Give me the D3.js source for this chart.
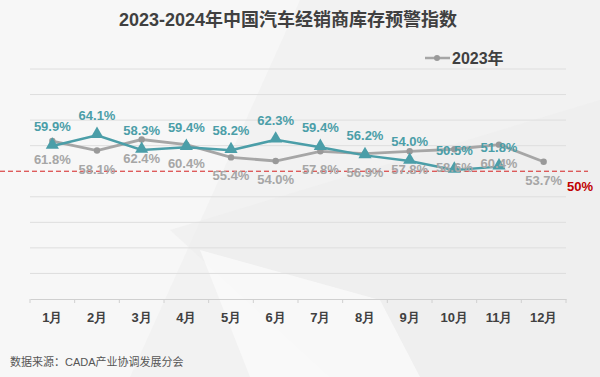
<!DOCTYPE html>
<html lang="zh">
<head>
    <meta charset="UTF-8">
    <script src="https://d3js.org/d3.v7.min.js"></script>
    <style>
        body { margin: 0; font-family: "Liberation Sans", Arial, "Noto Sans CJK SC", sans-serif; }
        .title { font-size: 18px; font-weight: bold; fill: #404040; text-anchor: middle; }
        .lbl { font-size: 13px; font-weight: bold; text-anchor: middle; }
        .month { font-size: 13px; font-weight: bold; fill: #404040; text-anchor: middle; }
    </style>
</head>
<body>
    <svg id="chart"></svg>
    <script>
        const months = ["1月", "2月", "3月", "4月", "5月", "6月", "7月", "8月", "9月", "10月", "11月", "12月"];
        const values2023 = [61.8, 58.1, 62.4, 60.4, 55.4, 54.0, 57.8, 56.9, 57.8, 58.6, 60.4, 53.7];
        const values2024 = [59.9, 64.1, 58.3, 59.4, 58.2, 62.3, 59.4, 56.2, 54.0, 50.5, 51.8];
        const yTicks = [0, 10, 20, 30, 40, 50, 60, 70, 80, 90];
        const warning = 50;

        const width = 600, height = 377;
        const margin = { top: 69, right: 34, bottom: 78, left: 30 };
        const grey = "#a6a6a6", teal = "#4b9ea8";

        const svg = d3.select("#chart").attr("width", width).attr("height", height);

        // background
        svg.append("rect").attr("width", width).attr("height", height).attr("fill", "#f2f2f2");
        svg.append("polygon").attr("points", "0,0 300,0 130,377 0,377").attr("fill", "#f7f7f7");
        svg.append("polygon").attr("points", "170,230 600,100 600,377 330,377").attr("fill", "#ececec").attr("opacity", 0.6);
        svg.append("polygon").attr("points", "200,250 380,300 420,377 250,377").attr("fill", "#fafafa").attr("opacity", 0.8);

        const x = d3.scaleBand().domain(months).range([margin.left, width - margin.right]);
        const y = d3.scaleLinear().domain([0, 90]).range([height - margin.bottom, margin.top]);
        const cx = m => x(m) + x.bandwidth() / 2;

        // gridlines
        svg.append("g").selectAll("line")
            .data(yTicks.filter(t => t !== 0 && t !== warning))
            .join("line")
            .attr("x1", margin.left).attr("x2", width - margin.right)
            .attr("y1", d => y(d)).attr("y2", d => y(d))
            .attr("stroke", "#dedede").attr("stroke-width", 1);

        // x axis
        const xAxis = svg.append("g")
            .attr("transform", `translate(0,${y(0)})`)
            .call(d3.axisBottom(x).tickSize(0).tickPadding(14));
        xAxis.select(".domain").attr("stroke", "#d0d0d0");
        xAxis.selectAll(".tick text").attr("class", "month").attr("font-family", null).attr("font-size", null);
        xAxis.selectAll(".sep").data(months.concat(["end"])).join("line")
            .attr("x1", (d, i) => margin.left + i * x.step()).attr("x2", (d, i) => margin.left + i * x.step())
            .attr("y1", 0).attr("y2", 4).attr("stroke", "#d0d0d0");

        // warning line
        svg.append("line")
            .attr("x1", 0).attr("x2", 588)
            .attr("y1", y(warning)).attr("y2", y(warning))
            .attr("stroke", "#d42020").attr("stroke-width", 1).attr("stroke-dasharray", "5,3");
        svg.append("text").attr("x", 580).attr("y", y(warning) + 20)
            .attr("text-anchor", "middle").attr("font-size", 13).attr("font-weight", "bold")
            .attr("fill", "#c00000").text("50%");

        const line = d3.line().x((d, i) => cx(months[i])).y(d => y(d));

        // 2023 series
        svg.append("path").datum(values2023)
            .attr("d", line).attr("fill", "none").attr("stroke", grey).attr("stroke-width", 2.8);
        svg.selectAll(".dot23").data(values2023).join("circle")
            .attr("cx", (d, i) => cx(months[i])).attr("cy", d => y(d))
            .attr("r", 3.2).attr("fill", "#999");

        // 2024 series
        svg.append("path").datum(values2024)
            .attr("d", line).attr("fill", "none").attr("stroke", teal).attr("stroke-width", 2.5);
        svg.selectAll(".tri").data(values2024).join("path")
            .attr("d", d3.symbol().type(d3.symbolTriangle).size(75))
            .attr("transform", (d, i) => `translate(${cx(months[i])},${y(d) - 1})`)
            .attr("fill", teal);

        // labels
        svg.selectAll(".l23").data(values2023).join("text")
            .attr("class", "lbl").attr("fill", grey)
            .attr("x", (d, i) => cx(months[i])).attr("y", d => y(d) + 23)
            .text(d => d.toFixed(1) + "%");
        svg.selectAll(".l24").data(values2024).join("text")
            .attr("class", "lbl").attr("fill", teal)
            .attr("x", (d, i) => cx(months[i])).attr("y", d => y(d) - 15)
            .text(d => d.toFixed(1) + "%");

        // title
        svg.append("text").attr("class", "title").attr("x", 288).attr("y", 26)
            .text("2023-2024年中国汽车经销商库存预警指数");

        // legend
        svg.append("line").attr("x1", 425).attr("x2", 450).attr("y1", 58).attr("y2", 58)
            .attr("stroke", grey).attr("stroke-width", 2.5);
        svg.append("circle").attr("cx", 437).attr("cy", 58).attr("r", 3).attr("fill", "#999");
        svg.append("text").attr("x", 452).attr("y", 64)
            .attr("font-size", 16).attr("font-weight", "bold").attr("fill", "#404040").text("2023年");

        // source
        svg.append("text").attr("x", 10).attr("y", 366)
            .attr("font-size", 11).attr("fill", "#555").text("数据来源：CADA产业协调发展分会");
    </script>
</body>
</html>
